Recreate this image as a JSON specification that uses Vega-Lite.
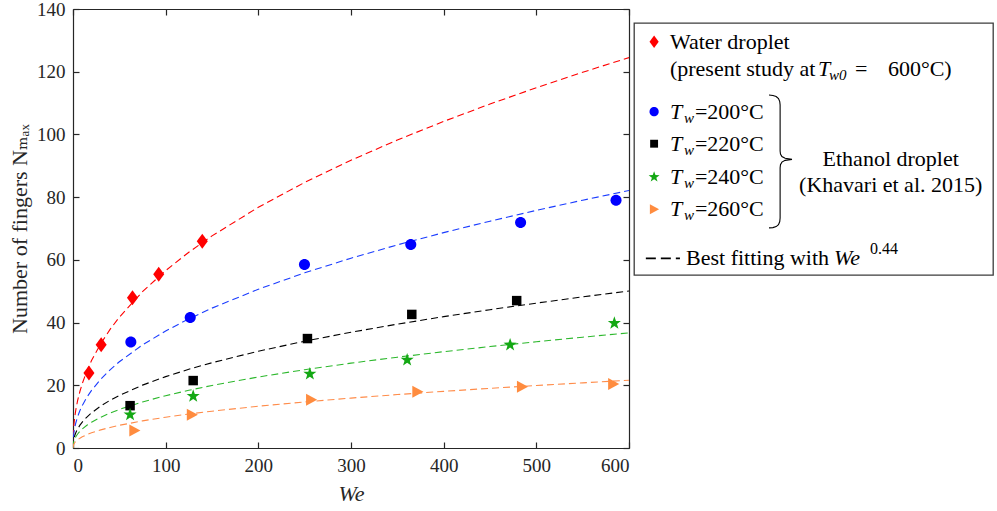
{
  "$schema": "https://vega.github.io/schema/vega-lite/v6.json",
  "padding": {"left": 8, "top": 0, "right": 0, "bottom": 0},
  "background": "white",
  "config": {
    "view": {"stroke": null},
    "font": "'Liberation Serif', 'Times New Roman', 'DejaVu Serif', serif",
    "text": {"font": "'Liberation Serif', 'Times New Roman', 'DejaVu Serif', serif"},
    "axis": {
      "labelFont": "'Liberation Serif', 'Times New Roman', 'DejaVu Serif', serif",
      "titleFont": "'Liberation Serif', 'Times New Roman', 'DejaVu Serif', serif",
      "labelFontSize": 19,
      "titleFontSize": 22,
      "titleFontWeight": "normal",
      "labelColor": "#262626",
      "titleColor": "#262626",
      "domainColor": "#262626",
      "domainWidth": 1.2,
      "tickColor": "#262626",
      "tickWidth": 1.2,
      "grid": false,
      "tickSize": -6,
      "labelPadding": 14
    }
  },
  "datasets": {
    "fits": [
      {"s":"water","We":0,"N":0},{"s":"water","We":0.5,"N":5.50},{"s":"water","We":1,"N":7.46},{"s":"water","We":2,"N":10.12},{"s":"water","We":3,"N":12.10},{"s":"water","We":5,"N":15.15},{"s":"water","We":7.5,"N":18.10},{"s":"water","We":10,"N":20.55},{"s":"water","We":15,"N":24.56},{"s":"water","We":20,"N":27.87},{"s":"water","We":30,"N":33.32},{"s":"water","We":40,"N":37.81},{"s":"water","We":50,"N":41.71},{"s":"water","We":75,"N":49.86},{"s":"water","We":100,"N":56.59},{"s":"water","We":125,"N":62.43},{"s":"water","We":150,"N":67.64},{"s":"water","We":200,"N":76.77},{"s":"water","We":250,"N":84.70},{"s":"water","We":300,"N":91.77},{"s":"water","We":350,"N":98.21},{"s":"water","We":400,"N":104.16},{"s":"water","We":450,"N":109.69},{"s":"water","We":500,"N":114.89},{"s":"water","We":550,"N":119.82},{"s":"water","We":600,"N":124.51},
      {"s":"200","We":0,"N":0},{"s":"200","We":0.5,"N":3.63},{"s":"200","We":1,"N":4.92},{"s":"200","We":2,"N":6.67},{"s":"200","We":3,"N":7.98},{"s":"200","We":5,"N":9.99},{"s":"200","We":7.5,"N":11.94},{"s":"200","We":10,"N":13.55},{"s":"200","We":15,"N":16.20},{"s":"200","We":20,"N":18.38},{"s":"200","We":30,"N":21.97},{"s":"200","We":40,"N":24.94},{"s":"200","We":50,"N":27.51},{"s":"200","We":75,"N":32.88},{"s":"200","We":100,"N":37.32},{"s":"200","We":125,"N":41.17},{"s":"200","We":150,"N":44.61},{"s":"200","We":200,"N":50.63},{"s":"200","We":250,"N":55.86},{"s":"200","We":300,"N":60.53},{"s":"200","We":350,"N":64.77},{"s":"200","We":400,"N":68.69},{"s":"200","We":450,"N":72.34},{"s":"200","We":500,"N":75.77},{"s":"200","We":550,"N":79.03},{"s":"200","We":600,"N":82.11},
      {"s":"220","We":0,"N":0},{"s":"220","We":0.5,"N":2.21},{"s":"220","We":1,"N":3.00},{"s":"220","We":2,"N":4.07},{"s":"220","We":3,"N":4.86},{"s":"220","We":5,"N":6.09},{"s":"220","We":7.5,"N":7.28},{"s":"220","We":10,"N":8.26},{"s":"220","We":15,"N":9.88},{"s":"220","We":20,"N":11.21},{"s":"220","We":30,"N":13.40},{"s":"220","We":40,"N":15.21},{"s":"220","We":50,"N":16.78},{"s":"220","We":75,"N":20.05},{"s":"220","We":100,"N":22.76},{"s":"220","We":125,"N":25.11},{"s":"220","We":150,"N":27.20},{"s":"220","We":200,"N":30.87},{"s":"220","We":250,"N":34.06},{"s":"220","We":300,"N":36.91},{"s":"220","We":350,"N":39.50},{"s":"220","We":400,"N":41.89},{"s":"220","We":450,"N":44.11},{"s":"220","We":500,"N":46.20},{"s":"220","We":550,"N":48.19},{"s":"220","We":600,"N":50.07},
      {"s":"240","We":0,"N":0},{"s":"240","We":0.5,"N":1.62},{"s":"240","We":1,"N":2.20},{"s":"240","We":2,"N":2.98},{"s":"240","We":3,"N":3.57},{"s":"240","We":5,"N":4.47},{"s":"240","We":7.5,"N":5.34},{"s":"240","We":10,"N":6.06},{"s":"240","We":15,"N":7.24},{"s":"240","We":20,"N":8.22},{"s":"240","We":30,"N":9.83},{"s":"240","We":40,"N":11.15},{"s":"240","We":50,"N":12.30},{"s":"240","We":75,"N":14.70},{"s":"240","We":100,"N":16.69},{"s":"240","We":125,"N":18.41},{"s":"240","We":150,"N":19.95},{"s":"240","We":200,"N":22.64},{"s":"240","We":250,"N":24.98},{"s":"240","We":300,"N":27.06},{"s":"240","We":350,"N":28.96},{"s":"240","We":400,"N":30.72},{"s":"240","We":450,"N":32.35},{"s":"240","We":500,"N":33.88},{"s":"240","We":550,"N":35.34},{"s":"240","We":600,"N":36.72},
      {"s":"260","We":0,"N":0},{"s":"260","We":0.5,"N":0.95},{"s":"260","We":1,"N":1.29},{"s":"260","We":2,"N":1.76},{"s":"260","We":3,"N":2.10},{"s":"260","We":5,"N":2.63},{"s":"260","We":7.5,"N":3.14},{"s":"260","We":10,"N":3.56},{"s":"260","We":15,"N":4.26},{"s":"260","We":20,"N":4.84},{"s":"260","We":30,"N":5.78},{"s":"260","We":40,"N":6.56},{"s":"260","We":50,"N":7.24},{"s":"260","We":75,"N":8.65},{"s":"260","We":100,"N":9.82},{"s":"260","We":125,"N":10.83},{"s":"260","We":150,"N":11.73},{"s":"260","We":200,"N":13.32},{"s":"260","We":250,"N":14.69},{"s":"260","We":300,"N":15.92},{"s":"260","We":350,"N":17.04},{"s":"260","We":400,"N":18.07},{"s":"260","We":450,"N":19.03},{"s":"260","We":500,"N":19.93},{"s":"260","We":550,"N":20.78},{"s":"260","We":600,"N":21.60}
    ],
    "pts": [
      {"s":"water","We":17.2,"N":23.9},{"s":"water","We":30.4,"N":32.9},{"s":"water","We":64.2,"N":47.9},{"s":"water","We":92.5,"N":55.4},{"s":"water","We":139.5,"N":65.9},
      {"s":"200","We":62.4,"N":33.8},{"s":"200","We":126.5,"N":41.6},{"s":"200","We":249.8,"N":58.5},{"s":"200","We":364.5,"N":64.9},{"s":"200","We":483,"N":71.9},{"s":"200","We":586,"N":79.0},
      {"s":"220","We":61.6,"N":13.5},{"s":"220","We":129.7,"N":21.5},{"s":"220","We":253,"N":34.9},{"s":"220","We":365.6,"N":42.6},{"s":"220","We":478.8,"N":47.0},
      {"s":"240","We":61.6,"N":10.6},{"s":"240","We":129.7,"N":16.5},{"s":"240","We":255.6,"N":23.6},{"s":"240","We":360.6,"N":28.1},{"s":"240","We":471.7,"N":32.9},{"s":"240","We":584.2,"N":39.8},
      {"s":"260","We":66.3,"N":5.6},{"s":"260","We":128.3,"N":10.6},{"s":"260","We":257,"N":15.4},{"s":"260","We":371.7,"N":17.9},{"s":"260","We":484.6,"N":19.5},{"s":"260","We":583,"N":20.4}
    ],
    "leg": [
      {"k":"sym","s":"water","x":5.6,"y":7.4},
      {"k":"sym","s":"200","x":5.6,"y":35.2},
      {"k":"sym","s":"220","x":5.6,"y":47.9},
      {"k":"sym","s":"240","x":5.6,"y":61.1},
      {"k":"sym","s":"260","x":5.6,"y":73.9},
      {"k":"fit","x":3.3,"x2":12.8,"y":93.4},
      {"k":"txt","t":"Water droplet","x":10.0,"y":7.4},
      {"k":"txt","t":"(present study at","x":10.0,"y":18.4},
      {"k":"txt","t":"Best fitting with","x":14.5,"y":93.4},
      {"k":"T2","t":"T","x":10.0,"y":18.4},
      {"k":"sub2","t":"w0","x":10.0,"y":18.4},
      {"k":"eq","t":"=","x":10.0,"y":18.4},
      {"k":"v600","t":"600°C)","x":10.0,"y":18.4},
      {"k":"T","t":"T","x":10.0,"y":35.2},
      {"k":"T","t":"T","x":10.0,"y":47.9},
      {"k":"T","t":"T","x":10.0,"y":61.1},
      {"k":"T","t":"T","x":10.0,"y":73.9},
      {"k":"sub","t":"w","x":10.0,"y":35.2},
      {"k":"sub","t":"w","x":10.0,"y":47.9},
      {"k":"sub","t":"w","x":10.0,"y":61.1},
      {"k":"sub","t":"w","x":10.0,"y":73.9},
      {"k":"val","t":"=200°C","x":10.0,"y":35.2},
      {"k":"val","t":"=220°C","x":10.0,"y":47.9},
      {"k":"val","t":"=240°C","x":10.0,"y":61.1},
      {"k":"val","t":"=260°C","x":10.0,"y":73.9},
      {"k":"We","t":"We","x":14.5,"y":93.4},
      {"k":"sup","t":"0.44","x":14.5,"y":93.4},
      {"k":"ctr","t":"Ethanol droplet","x":71.5,"y":54.0},
      {"k":"ctr","t":"(Khavari et al. 2015)","x":71.5,"y":64.2},
      {"k":"brace","o":1,"x":37.6,"y":28.6},
      {"k":"brace","o":2,"x":38.7,"y":28.8},
      {"k":"brace","o":3,"x":39.6,"y":29.2},
      {"k":"brace","o":4,"x":40.25,"y":30.0},
      {"k":"brace","o":5,"x":40.6,"y":31.2},
      {"k":"brace","o":6,"x":40.7,"y":32.5},
      {"k":"brace","o":7,"x":40.7,"y":50.8},
      {"k":"brace","o":8,"x":40.8,"y":52.0},
      {"k":"brace","o":9,"x":41.2,"y":53.0},
      {"k":"brace","o":10,"x":42.1,"y":53.7},
      {"k":"brace","o":11,"x":44.0,"y":54.1},
      {"k":"brace","o":12,"x":42.1,"y":54.5},
      {"k":"brace","o":13,"x":41.2,"y":55.2},
      {"k":"brace","o":14,"x":40.8,"y":56.2},
      {"k":"brace","o":15,"x":40.7,"y":57.5},
      {"k":"brace","o":16,"x":40.7,"y":77.4},
      {"k":"brace","o":17,"x":40.6,"y":78.8},
      {"k":"brace","o":18,"x":40.25,"y":80.0},
      {"k":"brace","o":19,"x":39.6,"y":80.8},
      {"k":"brace","o":20,"x":38.7,"y":81.2},
      {"k":"brace","o":21,"x":37.6,"y":81.3}
    ]
  },
  "spacing": 5,
  "bounds": "flush",
  "hconcat": [
    {
      "width": 556,
      "height": 439,
      "layer": [
        {
          "data": {"name": "fits"},
          "mark": {"type": "line", "strokeDash": [7, 4], "strokeWidth": 1.1, "clip": true},
          "encoding": {
            "x": {"field": "We", "type": "quantitative", "scale": {"domain": [0, 600], "nice": false},
                  "axis": {"orient": "bottom", "values": [0, 100, 200, 300, 400, 500, 600], "title": "We", "titleFontStyle": "italic", "titlePadding": 8}},
            "y": {"field": "N", "type": "quantitative", "scale": {"domain": [0, 140], "nice": false},
                  "axis": {"orient": "left", "values": [0, 20, 40, 60, 80, 100, 120, 140], "title": "Number of fingers Nₘₐₓ", "titlePadding": 5}},
            "stroke": {"field": "s", "type": "nominal",
                       "scale": {"domain": ["water", "200", "220", "240", "260"], "range": ["#FF0000", "#1A3CFF", "#000000", "#2DB82D", "#FF8C4A"]},
                       "legend": null}
          }
        },
        {
          "data": {"name": "pts"},
          "mark": {"type": "point", "filled": true, "opacity": 1, "size": 144, "strokeWidth": 0},
          "encoding": {
            "x": {"field": "We", "type": "quantitative", "axis": {"orient": "top", "labels": false, "title": null, "values": [0, 100, 200, 300, 400, 500, 600]}},
            "y": {"field": "N", "type": "quantitative", "axis": {"orient": "right", "labels": false, "title": null, "values": [0, 20, 40, 60, 80, 100, 120, 140]}},
            "fill": {"field": "s", "type": "nominal",
                     "scale": {"domain": ["water", "200", "220", "240", "260"], "range": ["#FF0000", "#0000FF", "#000000", "#14A814", "#FF8C3F"]},
                     "legend": null},
            "shape": {"field": "s", "type": "nominal",
                      "scale": {"domain": ["water", "200", "220", "240", "260"],
                                "range": ["M0,-1.25L0.92,0L0,1.25L-0.92,0Z",
                                          "M0.92,0A0.92,0.92,0,1,1,-0.92,0A0.92,0.92,0,1,1,0.92,0Z",
                                          "M-0.79,-0.79L0.79,-0.79L0.79,0.79L-0.79,0.79Z",
                                          "M0,-1.15L0.27,-0.37L1.09,-0.36L0.44,0.14L0.68,0.93L0,0.46L-0.68,0.93L-0.44,0.14L-1.09,-0.36L-0.27,-0.37Z",
                                          "M-0.85,-1L1,0L-0.85,1Z"]},
                      "legend": null}
          }
        }
      ],
      "resolve": {"axis": {"x": "independent", "y": "independent"}}
    },
    {
      "spacing": 0,
      "vconcat": [
        {
          "width": 359,
          "height": 13,
          "data": {"values": [{}]},
          "mark": {"type": "point", "opacity": 0},
          "view": {"stroke": null}
        },
        {
          "width": 359,
          "height": 252,
          "view": {"stroke": "#3C3C3C", "strokeWidth": 1.3},
          "data": {"name": "leg"},
          "encoding": {
            "x": {"field": "x", "type": "quantitative", "scale": {"domain": [0, 100], "nice": false, "zero": false}, "axis": null},
            "y": {"field": "y", "type": "quantitative", "scale": {"domain": [0, 100], "nice": false, "zero": false, "reverse": true}, "axis": null}
          },
          "layer": [
            {
              "transform": [{"filter": "datum.k === 'sym'"}],
              "mark": {"type": "point", "filled": true, "opacity": 1, "size": 100, "strokeWidth": 0},
              "encoding": {
                "fill": {"field": "s", "type": "nominal",
                         "scale": {"domain": ["water", "200", "220", "240", "260"], "range": ["#FF0000", "#0000FF", "#000000", "#14A814", "#FF8C3F"]},
                         "legend": null},
                "shape": {"field": "s", "type": "nominal",
                          "scale": {"domain": ["water", "200", "220", "240", "260"],
                                    "range": ["M0,-1.25L0.92,0L0,1.25L-0.92,0Z",
                                              "M0.92,0A0.92,0.92,0,1,1,-0.92,0A0.92,0.92,0,1,1,0.92,0Z",
                                              "M-0.79,-0.79L0.79,-0.79L0.79,0.79L-0.79,0.79Z",
                                              "M0,-1.15L0.27,-0.37L1.09,-0.36L0.44,0.14L0.68,0.93L0,0.46L-0.68,0.93L-0.44,0.14L-1.09,-0.36L-0.27,-0.37Z",
                                              "M-0.85,-1L1,0L-0.85,1Z"]},
                          "legend": null}
              }
            },
            {
              "transform": [{"filter": "datum.k === 'fit'"}],
              "mark": {"type": "rule", "strokeDash": [10, 5], "strokeWidth": 1.6, "color": "#000000"},
              "encoding": {"x2": {"field": "x2"}}
            },
            {
              "transform": [{"filter": "datum.k === 'txt'"}],
              "mark": {"type": "text", "align": "left", "baseline": "middle", "fontSize": 22, "color": "#000000"},
              "encoding": {"text": {"field": "t"}}
            },
            {
              "transform": [{"filter": "datum.k === 'T'"}],
              "mark": {"type": "text", "align": "left", "baseline": "middle", "fontSize": 22, "fontStyle": "italic", "color": "#000000"},
              "encoding": {"text": {"field": "t"}}
            },
            {
              "transform": [{"filter": "datum.k === 'T2'"}],
              "mark": {"type": "text", "align": "left", "baseline": "middle", "fontSize": 22, "fontStyle": "italic", "color": "#000000", "dx": 148},
              "encoding": {"text": {"field": "t"}}
            },
            {
              "transform": [{"filter": "datum.k === 'sub'"}],
              "mark": {"type": "text", "align": "left", "baseline": "middle", "fontSize": 15, "fontStyle": "italic", "color": "#000000", "dx": 14, "dy": 6},
              "encoding": {"text": {"field": "t"}}
            },
            {
              "transform": [{"filter": "datum.k === 'sub2'"}],
              "mark": {"type": "text", "align": "left", "baseline": "middle", "fontSize": 15, "fontStyle": "italic", "color": "#000000", "dx": 159, "dy": 6},
              "encoding": {"text": {"field": "t"}}
            },
            {
              "transform": [{"filter": "datum.k === 'val'"}],
              "mark": {"type": "text", "align": "left", "baseline": "middle", "fontSize": 22, "color": "#000000", "dx": 25},
              "encoding": {"text": {"field": "t"}}
            },
            {
              "transform": [{"filter": "datum.k === 'eq'"}],
              "mark": {"type": "text", "align": "left", "baseline": "middle", "fontSize": 22, "color": "#000000", "dx": 185},
              "encoding": {"text": {"field": "t"}}
            },
            {
              "transform": [{"filter": "datum.k === 'v600'"}],
              "mark": {"type": "text", "align": "left", "baseline": "middle", "fontSize": 22, "color": "#000000", "dx": 218},
              "encoding": {"text": {"field": "t"}}
            },
            {
              "transform": [{"filter": "datum.k === 'We'"}],
              "mark": {"type": "text", "align": "left", "baseline": "middle", "fontSize": 22, "fontStyle": "italic", "color": "#000000", "dx": 148},
              "encoding": {"text": {"field": "t"}}
            },
            {
              "transform": [{"filter": "datum.k === 'sup'"}],
              "mark": {"type": "text", "align": "left", "baseline": "middle", "fontSize": 16, "color": "#000000", "dx": 184, "dy": -9},
              "encoding": {"text": {"field": "t"}}
            },
            {
              "transform": [{"filter": "datum.k === 'ctr'"}],
              "mark": {"type": "text", "align": "center", "baseline": "middle", "fontSize": 22, "color": "#000000"},
              "encoding": {"text": {"field": "t"}}
            },
            {
              "transform": [{"filter": "datum.k === 'brace'"}],
              "mark": {"type": "line", "strokeWidth": 1.1, "color": "#000000"},
              "encoding": {"order": {"field": "o", "type": "quantitative"}}
            }
          ]
        }
      ]
    }
  ]
}
